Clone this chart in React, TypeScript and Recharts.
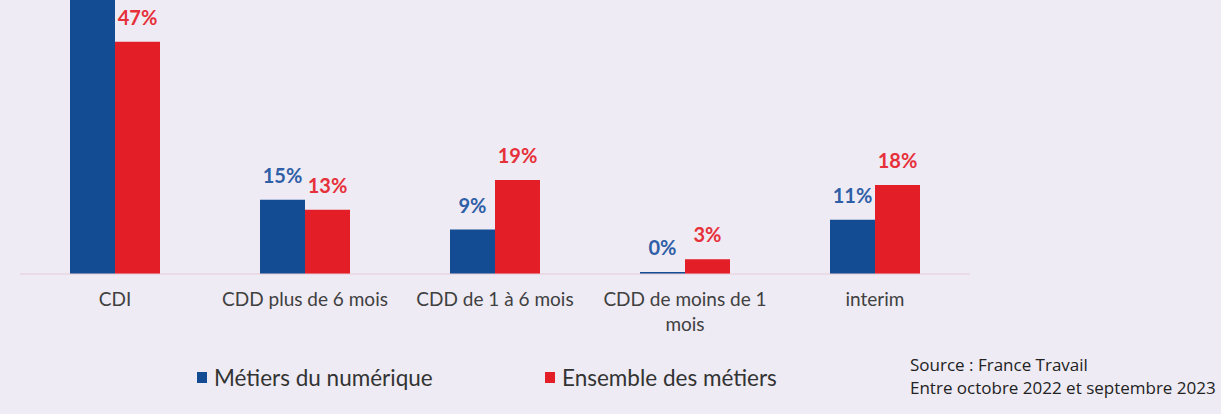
import { BarChart, Bar, XAxis, YAxis, LabelList, Legend } from "recharts";

const categories = [
  "CDI",
  "CDD plus de 6 mois",
  "CDD de 1 à 6 mois",
  "CDD de moins de 1\nmois",
  "interim",
];
const numerique = [65, 15, 9, 0, 11];
const ensemble = [47, 13, 19, 3, 18];
const seriesNames = ["Métiers du numérique", "Ensemble des métiers"];
const barColors = ["#134c93", "#e31e26"];
const labelColors = ["#2f5fa6", "#e6313a"];
const sourceLines = ["Source : France Travail", "Entre octobre 2022 et septembre 2023"];

const data = categories.map((name, i) => ({
  name,
  numerique: numerique[i],
  ensemble: ensemble[i],
}));

const FONT = "Lato, 'Open Sans', sans-serif";

const CategoryTick = ({ x, y, payload }: { x?: number; y?: number; payload?: { value: string } }) => {
  const lines = String(payload?.value ?? "").split("\n");
  return (
    <text x={x} y={y} textAnchor="middle" fill="#404040" fontSize={19} fontFamily={FONT}>
      {lines.map((l, i) => (
        <tspan key={i} x={x} dy={i === 0 ? 24 : 25}>{l}</tspan>
      ))}
    </text>
  );
};

const LegendContent = () => (
  <div style={{ display: "flex", alignItems: "center", paddingLeft: 177, paddingTop: 20, fontFamily: FONT, fontSize: 22.5, color: "#333" }}>
    {seriesNames.map((n, i) => (
      <div key={n} style={{ display: "flex", alignItems: "center", width: 348 }}>
        <span style={{ width: 10, height: 11, background: barColors[i], marginRight: 7, display: "inline-block" }} />
        <span>{n}</span>
      </div>
    ))}
  </div>
);

export default function App() {
  return (
    <div style={{ position: "absolute", left: 0, top: 0, width: 1221, height: 414, overflow: "hidden", background: "#eeebf4" }}>
      <div style={{ position: "absolute", left: 0, top: -72 }}>
        <BarChart
          width={1221}
          height={486}
          data={data}
          margin={{ top: 0, right: 251, left: 20, bottom: 30 }}
          barGap={0}
          barSize={45}
        >
          <XAxis
            dataKey="name"
            axisLine={{ stroke: "#e4cdd8" }}
            tickLine={false}
            height={70}
            interval={0}
            tick={<CategoryTick />}
          />
          <YAxis hide domain={[0, 70]} />
          <Legend verticalAlign="bottom" height={40} content={<LegendContent />} />
          <Bar dataKey="numerique" name={seriesNames[0]} fill={barColors[0]} minPointSize={2} isAnimationActive={false}>
            <LabelList dataKey="numerique" position="top" offset={17} formatter={(v: number) => `${v}%`} fill={labelColors[0]} fontSize={20} fontWeight={700} fontFamily={FONT} />
          </Bar>
          <Bar dataKey="ensemble" name={seriesNames[1]} fill={barColors[1]} isAnimationActive={false}>
            <LabelList dataKey="ensemble" position="top" offset={17} formatter={(v: number) => `${v}%`} fill={labelColors[1]} fontSize={20} fontWeight={700} fontFamily={FONT} />
          </Bar>
        </BarChart>
      </div>
      <div style={{ position: "absolute", left: 910, top: 353, fontFamily: "'Open Sans', sans-serif", fontSize: 17, lineHeight: "23px", color: "#222", whiteSpace: "nowrap" }}>
        {sourceLines.map((l) => (
          <div key={l}>{l}</div>
        ))}
      </div>
    </div>
  );
}
